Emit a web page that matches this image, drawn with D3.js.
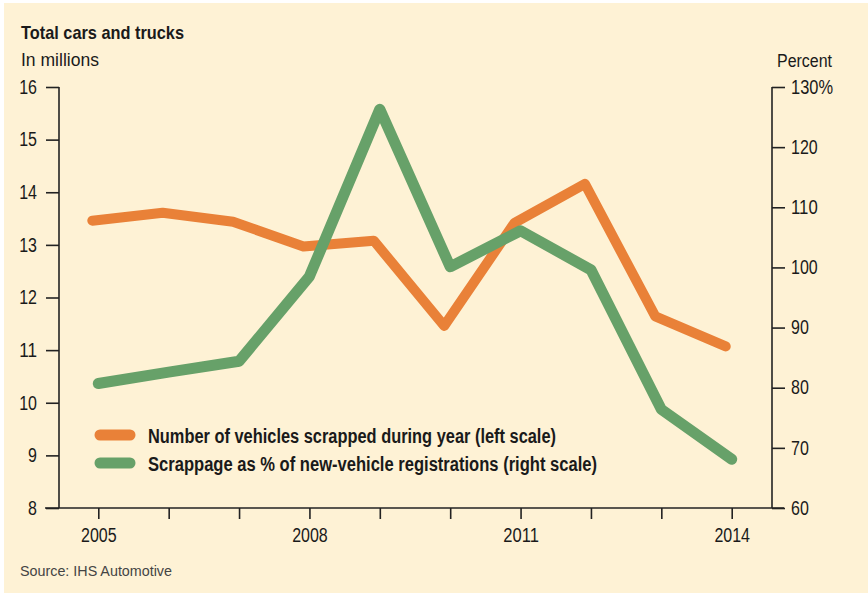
<!DOCTYPE html>
<html>
<head>
<meta charset="utf-8">
<script src="https://cdn.jsdelivr.net/npm/d3@7"></script>
<style>
  body { margin: 0; background: #fff; }
  text { font-family: "Liberation Sans", Arial, sans-serif; fill: #1a1a1a; }
</style>
</head>
<body>
<script>
const width = 868
const height = 593

// data
const years = [2005, 2006, 2007, 2008, 2009, 2010, 2011, 2012, 2013, 2014]
const scrapped = [13.46, 13.61, 13.44, 12.97, 13.08, 11.46, 13.42, 14.16, 11.64, 11.07]
const scrappagePct = [80.7, 82.6, 84.4, 98.5, 126.3, 100.1, 106.1, 99.6, 76.4, 68.1]
const yearLabels = [2005, 2008, 2011, 2014]
const leftTicks = [8, 9, 10, 11, 12, 13, 14, 15, 16]
const rightTicks = [60, 70, 80, 90, 100, 110, 120, 130]
const seriesNames = [
  "Number of vehicles scrapped during year (left scale)",
  "Scrappage as % of new-vehicle registrations (right scale)"
]
// widths of the condensed type in the original, used to squeeze the text
const legendWidths = [408, 449]

const orange = "#e98138"
const green = "#67a169"

const svg = d3.select("body").append("svg")
    .attr("width", width)
    .attr("height", height);

svg.append("rect")
    .attr("x", 4).attr("y", 3)
    .attr("width", width - 4).attr("height", height - 3)
    .attr("fill", "#fef2d5");

// narrow the text like the condensed face of the original
function squeeze(sel, w) {
  sel.attr("textLength", w).attr("lengthAdjust", "spacingAndGlyphs");
}
const digitW = 8.9;

// scales
const x = d3.scaleLinear().domain([2005, 2014]).range([98.3, 731.7]);
const yLeft = d3.scaleLinear().domain([8, 16]).range([508, 87]);
const yRight = d3.scaleLinear().domain([60, 130]).range([508, 87]);

// left axis
const leftAxis = svg.append("g")
    .attr("transform", "translate(59,0)")
    .call(d3.axisLeft(yLeft).tickValues(leftTicks).tickSize(13).tickPadding(9));

// right axis
const rightAxis = svg.append("g")
    .attr("transform", "translate(772,0)")
    .call(d3.axisRight(yRight).tickValues(rightTicks).tickSize(13).tickPadding(6)
        .tickFormat(d => d === 130 ? d + "%" : d));

// bottom axis
const bottomAxis = svg.append("g")
    .attr("transform", "translate(0,508)")
    .call(d3.axisBottom(x).tickValues(years).tickSize(11).tickPadding(9)
        .tickFormat(d => yearLabels.includes(d) ? d : ""));

for (const g of [leftAxis, rightAxis, bottomAxis]) {
  g.select(".domain").remove();
  g.selectAll(".tick line").attr("stroke", "#222").attr("stroke-width", 1.6);
  g.selectAll(".tick text")
      .attr("font-size", 19.5).attr("fill", "#1a1a1a")
      .style("font-family", '"Liberation Sans", Arial, sans-serif')
      .each(function() {
        const t = this.textContent;
        if (t) squeeze(d3.select(this), t.endsWith("%") ? 42 : t.length * digitW);
      });
}

// axis lines
svg.append("line").attr("x1", 45).attr("x2", 784).attr("y1", 508).attr("y2", 508)
    .attr("stroke", "#222").attr("stroke-width", 1.6);
svg.append("line").attr("x1", 59).attr("x2", 59).attr("y1", 87).attr("y2", 508)
    .attr("stroke", "#222").attr("stroke-width", 1.6);
svg.append("line").attr("x1", 772).attr("x2", 772).attr("y1", 87).attr("y2", 508)
    .attr("stroke", "#222").attr("stroke-width", 1.6);

// lines
const orangeLine = d3.line()
    .x((d, i) => x(years[i]) - 6)
    .y(d => yLeft(d));

const greenLine = d3.line()
    .x((d, i) => x(years[i]))
    .y(d => yRight(d));

svg.append("path")
    .attr("d", orangeLine(scrapped))
    .attr("fill", "none")
    .attr("stroke", orange)
    .attr("stroke-width", 10)
    .attr("stroke-linejoin", "round")
    .attr("stroke-linecap", "round");

svg.append("path")
    .attr("d", greenLine(scrappagePct))
    .attr("fill", "none")
    .attr("stroke", green)
    .attr("stroke-width", 11)
    .attr("stroke-linejoin", "round")
    .attr("stroke-linecap", "round");

// titles
svg.append("text").attr("x", 21).attr("y", 39)
    .attr("font-size", 19).attr("font-weight", "bold")
    .text("Total cars and trucks")
    .call(squeeze, 163);
svg.append("text").attr("x", 21).attr("y", 66)
    .attr("font-size", 18)
    .text("In millions")
    .call(squeeze, 78);
svg.append("text").attr("x", 777).attr("y", 67)
    .attr("font-size", 18)
    .text("Percent")
    .call(squeeze, 55);

// legend
const legend = svg.append("g").selectAll("g")
    .data(seriesNames)
    .enter().append("g")
    .attr("transform", (d, i) => `translate(0,${435 + i * 28})`);

legend.append("line")
    .attr("x1", 100).attr("x2", 130)
    .attr("stroke", (d, i) => i === 0 ? orange : green)
    .attr("stroke-width", 11)
    .attr("stroke-linecap", "round");

legend.append("text")
    .attr("x", 148).attr("y", 8)
    .attr("font-size", 20).attr("font-weight", "bold")
    .text(d => d)
    .attr("textLength", (d, i) => legendWidths[i])
    .attr("lengthAdjust", "spacingAndGlyphs");

// source
svg.append("text").attr("x", 20).attr("y", 576)
    .attr("font-size", 14).style("fill", "#444")
    .text("Source: IHS Automotive")
    .call(squeeze, 152);
</script>
</body>
</html>
